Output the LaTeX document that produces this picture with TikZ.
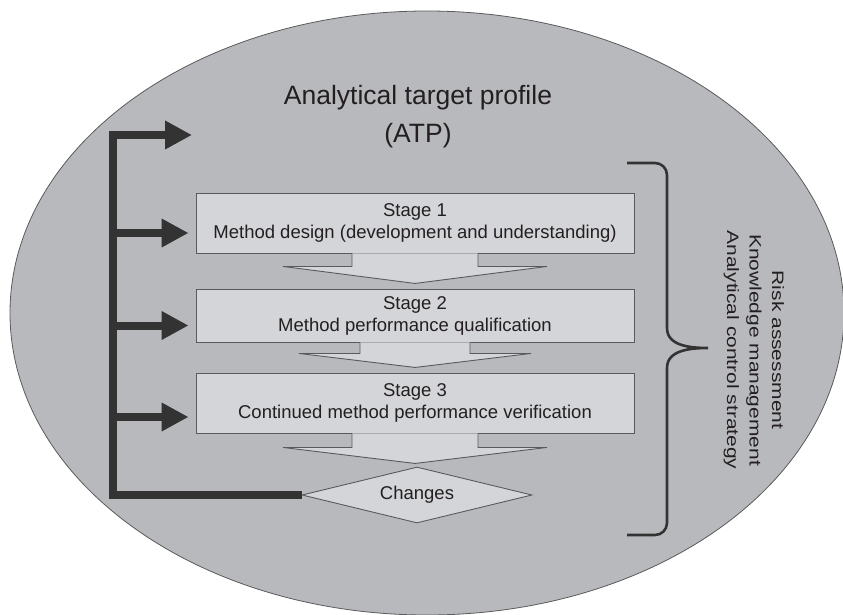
\documentclass[tikz,border=0pt]{standalone}
\usepackage{fontspec}
\setmainfont{Liberation Sans}
\newfontfamily\widesans[FakeStretch=1.27]{Liberation Sans}
\usetikzlibrary{shapes.geometric,arrows.meta,calc}
\definecolor{ovalgray}{HTML}{B8B9BD}
\definecolor{boxgray}{HTML}{D4D5D8}
\definecolor{edgegray}{HTML}{5A5A5C}
\definecolor{darkline}{HTML}{333333}
\definecolor{inkcol}{HTML}{231F20}
\begin{document}
\begin{tikzpicture}[x=1pt, y=-1pt, every node/.style={text=inkcol},
		stagebox/.style={draw=edgegray, fill=boxgray, line width=0.9pt,
			minimum width=438pt, inner sep=0pt, align=center,
			font=\fontsize{18.5}{22}\selectfont},
		blockarrow/.style={draw=edgegray, fill=boxgray, line width=0.9pt},
		fbline/.style={draw=darkline, line width=8pt, line join=miter,
			-{Triangle[length=27pt,width=27pt]}}]
		\useasboundingbox (0,0) rectangle (843,615);
		\draw[draw=edgegray, fill=ovalgray, line width=0.8pt] (427,313) ellipse [x radius=417pt, y radius=302pt];

		\node[align=center, font=\fontsize{26.5}{38}\selectfont] (atp) at (418,117) {Analytical target profile\\(ATP)};
		\node[stagebox, minimum height=60pt] (s1) at (415,223) {Stage 1\\Method design (development and understanding)};
		\node[stagebox, minimum height=53pt] (s2) at (415,315.5) {Stage 2\\Method performance qualification};
		\node[stagebox, minimum height=60pt] (s3) at (415,403) {Stage 3\\Continued method performance verification};
		\node[diamond, aspect=4.1, draw=edgegray, fill=boxgray, line width=0.9pt, inner sep=0pt,
			minimum width=230pt, minimum height=56pt, font=\fontsize{18.5}{22}\selectfont] (chg) at (417,495) {Changes};

		% arrows between the stages
		\filldraw[blockarrow] ($(s1.south)+(-63,0)$) -- ++(0,13) -- ++(-69,0) -- ($(s1.south)+(0,30)$)
			-- ++(132,-17) -- ++(-69,0) -- ++(0,-13);
		\filldraw[blockarrow] ($(s2.south)+(-55,0)$) -- ++(0,11) -- ++(-61,0) -- ($(s2.south)+(0,25)$)
			-- ++(116,-14) -- ++(-61,0) -- ++(0,-11);
		\filldraw[blockarrow] ($(s3.south)+(-63,0)$) -- ++(0,14) -- ++(-69,0) -- ($(s3.south)+(0,30)$)
			-- ++(132,-16) -- ++(-69,0) -- ++(0,-14);

		% feedback loop
		\coordinate (fbb) at (113,495);
		\coordinate (fbt) at (113,135);
		\coordinate (atpin) at (192,135);
		\draw[fbline] (chg.west) -- (fbb) -- (fbt) -- (atpin);
		\draw[fbline, shorten >=7pt] (fbt |- {$(s1.west)+(0,10)$}) -- ($(s1.west)+(0,10)$);
		\draw[fbline, shorten >=7pt] (fbt |- {$(s2.west)+(0,10)$}) -- ($(s2.west)+(0,10)$);
		\draw[fbline, shorten >=7pt] (fbt |- {$(s3.west)+(0,14)$}) -- ($(s3.west)+(0,14)$);

		% bracket and the three lines beside it
		\draw[darkline, line width=2.6pt] (627,163) -- (655,163) to[out=0, in=90] (667,175) -- (667,328)
			to[out=-90, in=180] (708,348) to[out=180, in=90] (667,368) -- (667,523)
			to[out=-90, in=0] (655,535) -- (627,535);
		\node[rotate=-90, align=center, font=\widesans\fontsize{16.5}{22.5}\selectfont] (ctrl) at (754,350)
			{Risk assessment\\Knowledge management\\Analytical control strategy};
	\end{tikzpicture}
\end{document}
